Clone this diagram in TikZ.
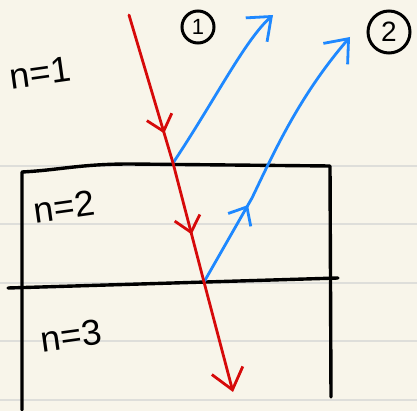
\documentclass[tikz,border=0pt]{standalone}
\usepackage{fontspec}
\setmainfont{Liberation Sans}
\usetikzlibrary{arrows.meta,decorations.markings}
\definecolor{PaperCream}{RGB}{248,245,234}
\definecolor{RuleGray}{RGB}{222,222,218}
\definecolor{RayRed}{RGB}{214,10,10}
\definecolor{RayBlue}{RGB}{30,136,255}

\begin{document}
\begin{tikzpicture}[x=1pt,y=-1pt,
  ray/.style={line width=2.8pt,line cap=round,line join=round},
  wall/.style={line width=3.4pt,black,line cap=round,line join=round},
  tip/.style={-{Straight Barb[length=20pt,width=32pt]}},
  midtip/.style={postaction={decorate},decoration={markings,mark=at position #1 with {\arrow{Straight Barb[length=15pt,width=26pt]}}}},
  lbl/.style={font=\fontsize{36}{40}\selectfont,rotate=8},
  circ/.style={circle,draw,line width=3pt,inner sep=0pt}]
\fill[PaperCream] (0,0) rectangle (417,411);
\useasboundingbox (0,0) rectangle (417,411);
\foreach \y in {166,224,283,341,400}{\draw[RuleGray,line width=1.5pt] (0,\y) -- (417,\y);}
% slab
\coordinate (tl) at (22,172);
\coordinate (tr) at (330,166);
\coordinate (ml) at (8,288);
\coordinate (mr) at (338,278);
\draw[wall] (22,410) -- (tl) .. controls (60,170) and (80,164) .. (130,164) -- (tr) -- (331,397);
\draw[wall] (ml) -- (mr);
% rays
\coordinate (src) at (129,15);
\coordinate (hitA) at (173,163);
\coordinate (hitB) at (204,282);
\coordinate (exit) at (233,392);
\coordinate (outA) at (273,15);
\coordinate (outB) at (350,37);
\draw[ray,RayBlue,tip] (hitA) .. controls (215,100) and (245,40) .. (outA);
\draw[ray,RayBlue,tip,midtip=0.31] (hitB) -- (252,198) .. controls (275,150) and (300,95) .. (outB);
\draw[ray,RayRed,midtip=0.8] (src) -- (hitA);
\draw[ray,RayRed,midtip=0.6] (hitA) -- (hitB);
\draw[ray,RayRed,tip] (hitB) -- (exit);
% labels
\node[lbl] (n1) at (40,73) {n=1};
\node[lbl] (n2) at (64,207) {n=2};
\node[lbl] (n3) at (71,336) {n=3};
\node[circ,minimum size=32pt,font=\fontsize{22}{24}\selectfont] (c1) at (198,27) {1};
\node[circ,minimum size=42pt,font=\fontsize{28}{30}\selectfont] (c2) at (389,32) {2};
\end{tikzpicture}
\end{document}
